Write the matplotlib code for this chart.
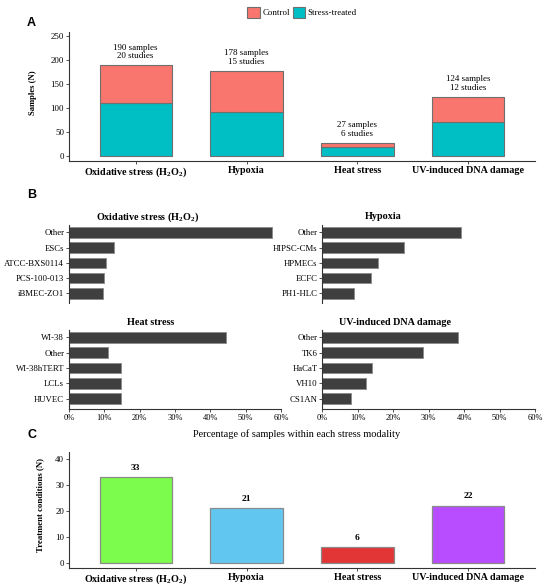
import numpy as np
import matplotlib
matplotlib.use("Agg")
import matplotlib.pyplot as plt
from matplotlib.patches import Patch

# ---------------- data ----------------
categories = ["Oxidative stress (H$_\\mathbf{2}$O$_\\mathbf{2}$)", "Hypoxia",
              "Heat stress", "UV-induced DNA damage"]
stress_treated = [110, 92, 18, 70]
control = [80, 86, 9, 54]
n_samples = [190, 178, 27, 124]
n_studies = [20, 15, 6, 12]

ox_cells = ["Other", "ESCs", "ATCC-BXS0114", "PCS-100-013", "iBMEC-ZO1"]
ox_pct = [57.4, 12.6, 10.5, 10.0, 9.5]
hyp_cells = ["Other", "HIPSC-CMs", "HPMECs", "ECFC", "PH1-HLC"]
hyp_pct = [39.1, 23.1, 15.7, 13.6, 9.0]
heat_cells = ["WI-38", "Other", "WI-38hTERT", "LCLs", "HUVEC"]
heat_pct = [44.4, 11.1, 14.8, 14.8, 14.8]
uv_cells = ["Other", "TK6", "HaCaT", "VH10", "CS1AN"]
uv_pct = [38.2, 28.3, 13.9, 12.2, 8.1]

conditions = [33, 21, 6, 22]
cond_colors = ["#7CFC4C", "#62C7F0", "#E23636", "#B84DFF"]

# ---------------- style ----------------
plt.rcParams["font.family"] = ["Liberation Serif", "DejaVu Serif"]
plt.rcParams["mathtext.fontset"] = "custom"
plt.rcParams["mathtext.rm"] = "Liberation Serif"
plt.rcParams["mathtext.bf"] = "Liberation Serif:bold"
plt.rcParams["axes.linewidth"] = 0.8
plt.rcParams["axes.edgecolor"] = "#333333"

W, H = 550, 588
fig = plt.figure(figsize=(5.5, 5.88), dpi=100)


def px_axes(x0, x1, y0, y1):
    # pixel box (top-left origin) -> figure axes
    return fig.add_axes([x0 / W, 1 - y1 / H, (x1 - x0) / W, (y1 - y0) / H])


def clean(ax, bottom=True):
    ax.spines["top"].set_visible(False)
    ax.spines["right"].set_visible(False)
    if not bottom:
        ax.spines["bottom"].set_visible(False)
    ax.tick_params(length=2, width=0.6, color="#333333", pad=1.5)


def panel_letter(s, y):
    fig.text(27 / W, 1 - y / H, s, fontsize=9, fontweight="bold",
             family="Liberation Sans", ha="left", va="center")


x = np.arange(len(categories))

# ---------------- panel A ----------------
axA = px_axes(69, 535, 31.7, 160.7)
axA.bar(x, stress_treated, width=0.65, color="#00BFC4", edgecolor="#6f6f6f", lw=0.8)
axA.bar(x, control, bottom=stress_treated, width=0.65, color="#F8766D",
        edgecolor="#6f6f6f", lw=0.8)
for i in x:
    axA.text(i, n_samples[i] + 14, f"{n_samples[i]} samples\n{n_studies[i]} studies",
             ha="center", va="baseline", fontsize=6.5, linespacing=1.15)
axA.set_xlim(-0.6, 3.6)
axA.set_ylim(-10, 260)
axA.set_yticks([0, 50, 100, 150, 200, 250])
axA.set_xticks(x)
axA.set_xticklabels(categories, fontsize=7.3, fontweight="bold")
axA.tick_params(axis="y", labelsize=6.4)
clean(axA)
fig.text(33 / W, 1 - 93 / H, "Samples (N)", rotation=90, fontsize=6.2,
         fontweight="bold", ha="center", va="center")
panel_letter("A", 22.7)

handles = [Patch(facecolor="#F8766D", edgecolor="#6f6f6f", lw=0.8, label="Control"),
           Patch(facecolor="#00BFC4", edgecolor="#6f6f6f", lw=0.8, label="Stress-treated")]
fig.legend(handles=handles, loc="center", bbox_to_anchor=(302 / W, 1 - 12.5 / H),
           ncol=2, frameon=False, fontsize=6.4, handlelength=1.4, handleheight=1.4,
           handletextpad=0.25, columnspacing=0.35, borderpad=0)

# ---------------- panel B ----------------
panels = [
    (ox_cells, ox_pct, (69, 281, 225, 303.3), False,
     "Oxidative stress (H$_\\mathbf{2}$O$_\\mathbf{2}$)", (148, 217.5)),
    (hyp_cells, hyp_pct, (322.3, 535, 225, 303.3), False, "Hypoxia", (383, 216.5)),
    (heat_cells, heat_pct, (69, 281, 330, 408.7), True, "Heat stress", (151, 322.7)),
    (uv_cells, uv_pct, (322.3, 535, 330, 408.7), True, "UV-induced DNA damage", (395, 322.7)),
]
for cells, pct, box, show_x, title, tpos in panels:
    ax = px_axes(*box)
    yy = np.arange(len(cells))
    ax.barh(yy, pct, height=0.7, color="#3f3f3f", edgecolor="#8a8a8a", lw=0.6)
    ax.set_yticks(yy)
    ax.set_yticklabels(cells, fontsize=6.3)
    ax.set_ylim(4.65, -0.48)
    ax.set_xlim(0, 60)
    clean(ax, bottom=show_x)
    if show_x:
        ax.set_xticks(np.arange(0, 61, 10))
        ax.set_xticklabels([f"{v}%" for v in range(0, 61, 10)], fontsize=6.0)
    else:
        ax.set_xticks([])
    fig.text(tpos[0] / W, 1 - tpos[1] / H, title, fontsize=7.3, fontweight="bold",
             ha="center", va="center")

fig.text(297 / W, 1 - 434 / H, "Percentage of samples within each stress modality",
         fontsize=7.4, ha="center", va="center")
panel_letter("B", 195)

# ---------------- panel C ----------------
axC = px_axes(69, 535, 451.7, 567.7)
axC.bar(x, conditions, width=0.65, color=cond_colors, edgecolor="#8a8a8a", lw=0.9)
for i in x:
    axC.text(i, conditions[i] + 3.6, str(conditions[i]), ha="center", va="center",
             fontsize=6.8, fontweight="bold")
axC.set_xlim(-0.6, 3.6)
axC.set_ylim(-1.9, 42.9)
axC.set_yticks([0, 10, 20, 30, 40])
axC.set_xticks(x)
axC.set_xticklabels(categories, fontsize=7.3, fontweight="bold")
axC.tick_params(axis="y", labelsize=6.4)
clean(axC)
fig.text(40 / W, 1 - 505 / H, "Treatment conditions (N)", rotation=90, fontsize=6.3,
         fontweight="bold", ha="center", va="center")
panel_letter("C", 435)

fig.savefig("out.png", dpi=100, facecolor="white")
